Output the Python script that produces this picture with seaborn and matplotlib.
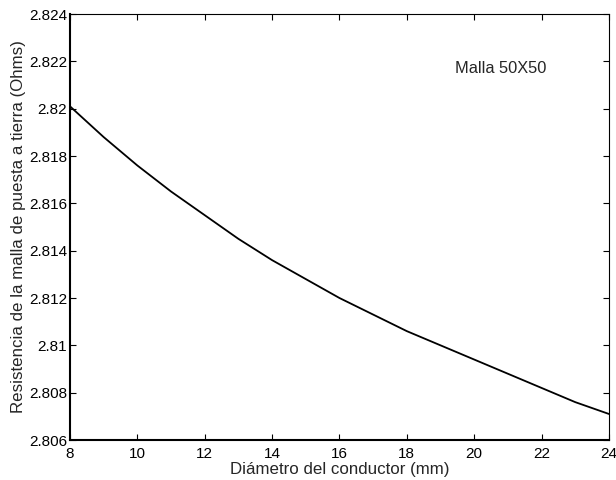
import pandas as pd
import matplotlib
matplotlib.use("Agg")
import matplotlib.pyplot as plt
import seaborn as sns

# data
diametro = [8, 9, 10, 11, 12, 13, 14, 15, 16, 17, 18, 19, 20, 21, 22, 23, 24]
resistencia = [2.8201, 2.8188, 2.8176, 2.8165, 2.8155, 2.8145, 2.8136, 2.8128,
               2.8120, 2.8113, 2.8106, 2.8100, 2.8094, 2.8088, 2.8082, 2.8076, 2.8071]
x_ticks = [8, 10, 12, 14, 16, 18, 20, 22, 24]
y_ticks = [2.806, 2.808, 2.81, 2.812, 2.814, 2.816, 2.818, 2.82, 2.822, 2.824]
y_tick_labels = ['2.806', '2.808', '2.81', '2.812', '2.814', '2.816', '2.818', '2.82', '2.822', '2.824']

df = pd.DataFrame({'d': diametro, 'r': resistencia})

sns.set_style("white")
plt.rcParams['font.family'] = ['Liberation Sans', 'DejaVu Sans']

fig = plt.figure(figsize=(6.16, 4.8), dpi=100)
ax = fig.add_axes([0.1136, 0.0833, 0.875, 0.8875])

sns.lineplot(data=df, x='d', y='r', color='black', linewidth=1.3, ax=ax)

ax.set_xlim(8, 24)
ax.set_ylim(2.806, 2.824)
ax.set_xticks(x_ticks)
ax.set_yticks(y_ticks)
ax.set_yticklabels(y_tick_labels)
ax.tick_params(direction='in', length=4, width=0.8, top=True, right=True,
               bottom=True, left=True, labelsize=11, colors='black')
ax.tick_params(axis='x', pad=5)
ax.tick_params(axis='y', pad=2)

for side in ['left', 'bottom']:
    ax.spines[side].set_linewidth(1.5)
for side in ['top', 'right']:
    ax.spines[side].set_linewidth(0.8)
for s in ax.spines.values():
    s.set_color('black')
    s.set_visible(True)

ax.set_xlabel('Diámetro del conductor (mm)', fontsize=12.2, labelpad=1)
ax.set_ylabel('Resistencia de la malla de puesta a tierra (Ohms)', fontsize=12.2, labelpad=2)

ax.text(19.42, 2.8217, 'Malla 50X50', fontsize=11.8, ha='left', va='center')

fig.savefig('out.png', dpi=100, facecolor='white')
